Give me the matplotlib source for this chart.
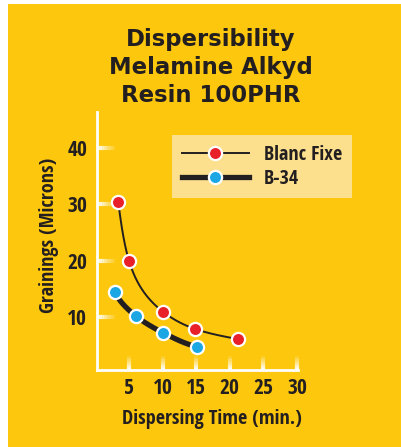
import numpy as np
import matplotlib
matplotlib.use('Agg')
import matplotlib.pyplot as plt
from matplotlib import font_manager
from matplotlib.patches import Rectangle
from matplotlib.transforms import blended_transform_factory

# data
blanc_x = [3.4, 5.0, 10.1, 14.8, 21.2]
blanc_y = [30.5, 20.0, 10.9, 7.9, 6.1]
b34_x = [2.9, 6.0, 10.1, 15.1]
b34_y = [14.4, 10.2, 7.2, 4.7]
x_ticks = [5, 10, 15, 20, 25, 30]
y_ticks = [10, 20, 30, 40]
title = 'Dispersibility\nMelamine Alkyd\nResin 100PHR'

YELLOW = '#FDC70D'
LEGEND_BG = '#FCE08E'
RED = '#E8202A'
BLUE = '#1AA7E4'
INK = '#231F20'

# pick the narrowest bold face that is installed
fonts = [f.fname for f in font_manager.fontManager.ttflist]
narrow = None
for key in ['liberationsansnarrow-bold.', 'opensans-condbold', 'opensans_condensed-bold',
            'dejavusanscondensed-bold.']:
    hits = [p for p in fonts if key in p.lower().replace(' ', '')]
    if hits:
        narrow = font_manager.FontProperties(fname=hits[0])
        break
if narrow is None:
    narrow = font_manager.FontProperties(family='DejaVu Sans', weight='bold', stretch='condensed')


def smooth(x, y, n=300):
    # monotone cubic hermite in log-log space, only used to draw the curve
    lx = np.log(np.asarray(x, float))
    ly = np.log(np.asarray(y, float))
    h = np.diff(lx)
    d = np.diff(ly) / h
    m = np.zeros_like(ly)
    m[0], m[-1] = d[0], d[-1]
    for i in range(1, len(lx) - 1):
        if d[i - 1] * d[i] > 0:
            w1 = 2 * h[i] + h[i - 1]
            w2 = h[i] + 2 * h[i - 1]
            m[i] = (w1 + w2) / (w1 / d[i - 1] + w2 / d[i])
    xs = np.linspace(lx[0], lx[-1], n)
    k = np.clip(np.searchsorted(lx, xs) - 1, 0, len(lx) - 2)
    t = (xs - lx[k]) / h[k]
    h00 = 2 * t**3 - 3 * t**2 + 1
    h10 = t**3 - 2 * t**2 + t
    h01 = -2 * t**3 + 3 * t**2
    h11 = t**3 - t**2
    ys = h00 * ly[k] + h10 * h[k] * m[k] + h01 * ly[k + 1] + h11 * h[k] * m[k + 1]
    return np.exp(xs), np.exp(ys)


fig = plt.figure(figsize=(4.01, 4.47), dpi=100)
fig.patch.set_facecolor('white')
fig.patches.append(Rectangle((8 / 401, 0), 1, 1 - 4 / 447, transform=fig.transFigure,
                             facecolor=YELLOW, edgecolor='none', zorder=-5))

ax = fig.add_axes([97 / 401, 1 - 370 / 447, 201 / 401, 258 / 447])
ax.set_facecolor('none')

sx, sy = smooth(blanc_x, blanc_y)
ax.plot(sx, sy, color=INK, lw=1.4, zorder=2)
ax.plot(blanc_x, blanc_y, 'o', ms=9.5, mfc=RED, mec='white', mew=1.6, zorder=3)
sx, sy = smooth(b34_x, b34_y)
ax.plot(sx, sy, color=INK, lw=3.8, zorder=2)
ax.plot(b34_x, b34_y, 'o', ms=9.5, mfc=BLUE, mec='white', mew=1.6, zorder=3)

# legend handles
ax.plot([], [], '-o', color=INK, lw=1.4, ms=9.5, mfc=RED, mec='white', mew=1.6, label='Blanc Fixe')
ax.plot([], [], '-o', color=INK, lw=3.8, ms=9.5, mfc=BLUE, mec='white', mew=1.6, label='B-34')
handles, labels = ax.get_legend_handles_labels()
leg_font = narrow.copy()
leg_font.set_size(14.5)
leg = ax.legend(handles[-2:], labels[-2:], loc='upper left',
                bbox_to_anchor=(172 / 401, 1 - 135 / 447), bbox_transform=fig.transFigure,
                numpoints=1, handlelength=3.35, handletextpad=0.75, labelspacing=0.2,
                borderpad=0.48, borderaxespad=0, fancybox=False, prop=leg_font)
leg.get_frame().set_facecolor(LEGEND_BG)
leg.get_frame().set_edgecolor('none')
leg.get_frame().set_alpha(1)
for t in leg.get_texts():
    t.set_color(INK)

ax.set_xlim(0.24, 30.15)
ax.set_ylim(0.6, 46.4)
ax.set_xticks(x_ticks)
ax.set_yticks(y_ticks)
for s in ['top', 'right']:
    ax.spines[s].set_visible(False)
for s in ['left', 'bottom']:
    ax.spines[s].set_color('white')
    ax.spines[s].set_linewidth(2)
ax.tick_params(length=0)
ax.tick_params(axis='y', pad=7)
ax.tick_params(axis='x', pad=6)

# fading white tick marks
steps = 8
ty = blended_transform_factory(ax.transAxes, ax.transData)
tx = blended_transform_factory(ax.transData, ax.transAxes)
for i in range(steps):
    a = 0.95 * (1 - i / steps)
    for v in y_ticks:
        ax.plot([i * 0.09 / steps, (i + 1) * 0.09 / steps], [v, v], transform=ty,
                color='white', alpha=a, lw=3, solid_capstyle='butt', clip_on=False)
    for v in x_ticks:
        ax.plot([v, v], [i * 0.055 / steps, (i + 1) * 0.055 / steps], transform=tx,
                color='white', alpha=a, lw=3, solid_capstyle='butt', clip_on=False)

for lab in ax.get_xticklabels() + ax.get_yticklabels():
    lab.set_fontproperties(narrow)
    lab.set_fontsize(15.5)
    lab.set_color(INK)

ax.set_xlabel('Dispersing Time (min.)', fontproperties=narrow, fontsize=14.5, color=INK)
ax.xaxis.set_label_coords(0.572, -0.15)
ax.set_ylabel('Grainings (Microns)', fontproperties=narrow, fontsize=14.5, color=INK)
ax.yaxis.set_label_coords(-0.19, 0.52)

fig.text(211 / 401, 1 - 28 / 447, title, ha='center', va='top', fontsize=16.4,
         fontweight='bold', color=INK, linespacing=1.27, family='DejaVu Sans')

fig.savefig('out.png', dpi=100, facecolor=fig.get_facecolor())
